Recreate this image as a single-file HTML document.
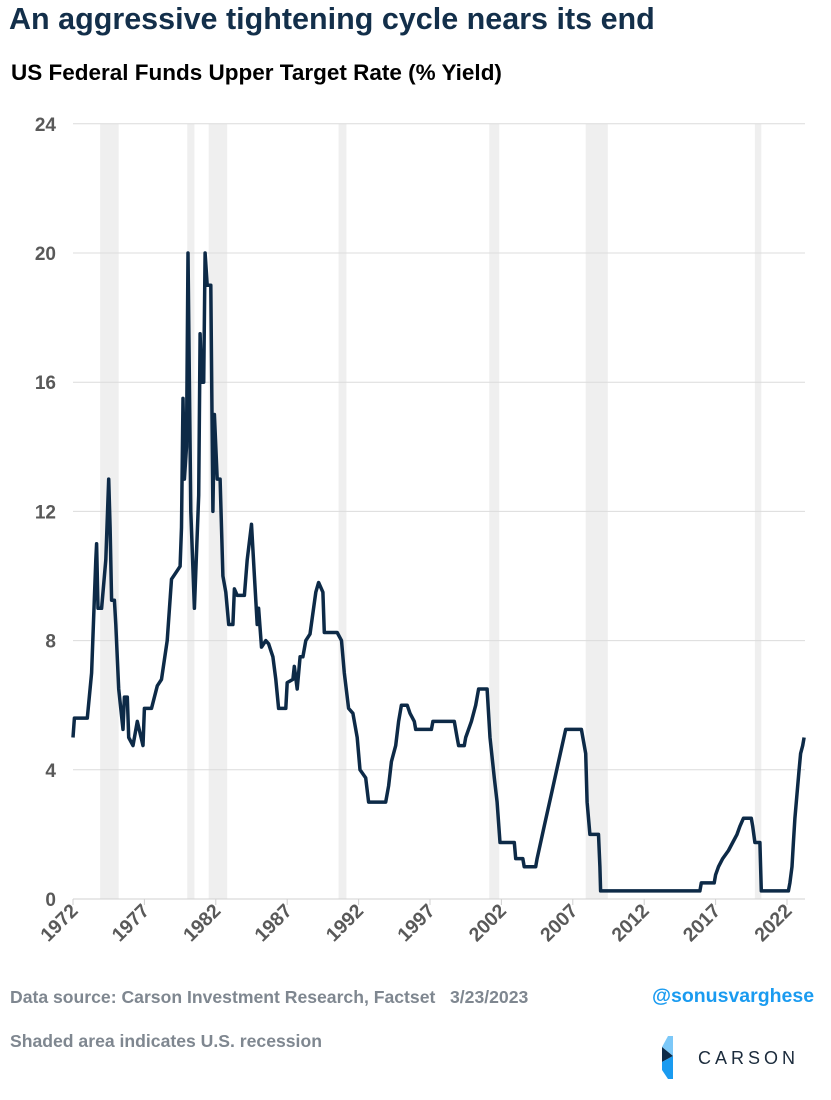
<!DOCTYPE html>
<html><head><meta charset="utf-8"><style>
body{margin:0;width:831px;height:1100px;background:#fff;font-family:"Liberation Sans",sans-serif;overflow:hidden;position:relative}
.t{position:absolute;white-space:nowrap}
</style></head><body>
<div class="t" style="left:9px;top:2px;font-size:30.5px;font-weight:bold;color:#132f4a">An aggressive tightening cycle nears its end</div>
<div class="t" style="left:11px;top:60px;font-size:22.5px;font-weight:bold;color:#000">US Federal Funds Upper Target Rate (% Yield)</div>
<svg id="s" width="831" height="1100" style="position:absolute;left:0;top:0" font-family="Liberation Sans, sans-serif"></svg>
<div class="t" style="left:10px;top:987px;font-size:17.6px;font-weight:bold;color:#7f8790">Data source: Carson Investment Research, Factset&nbsp;&nbsp; 3/23/2023</div>
<div class="t" style="left:652px;top:985px;font-size:19.5px;font-weight:bold;color:#1a9bf0">@sonusvarghese</div>
<div class="t" style="left:10px;top:1031px;font-size:17.6px;font-weight:bold;color:#7f8790">Shaded area indicates U.S. recession</div>
<svg width="30" height="50" style="position:absolute;left:660px;top:1036px">
<polygon points="8,0 13,0 13,20 2,11" fill="#7cc8f8"/><polygon points="2,11 13,20 2,26" fill="#0d2a47"/><polygon points="2,26 13,20 13,43 8,43 2,34" fill="#1a9bf0"/></svg>
<div class="t" style="left:698px;top:1048px;font-size:18px;letter-spacing:4px;color:#1b2b3c">CARSON</div>
<script>
var s=document.getElementById('s'),h='';
function X(y){return 73+(y-1972)*14.28}function Y(v){return 899-v*32.3}
[[1973.9,1975.2],[1980,1980.5],[1981.5,1982.8],[1990.6,1991.15],[2001.15,2001.85],[2007.9,2009.45],[2019.75,2020.2]].forEach(function(r){h+='<rect x="'+X(r[0])+'" y="124" width="'+(X(r[1])-X(r[0]))+'" height="775" fill="#efefef"/>'});
for(var v=4;v<=24;v+=4)h+='<line x1="73" x2="805" y1="'+Y(v)+'" y2="'+Y(v)+'" stroke="#dcdcdc"/>';
h+='<line x1="73" x2="805" y1="899" y2="899" stroke="#d0d0d0"/>';
for(v=0;v<=24;v+=4)h+='<text x="56" y="'+(Y(v)+7)+'" text-anchor="end" font-size="19" font-weight="bold" fill="#595959">'+v+'</text>';
for(var y=1972;y<=2022;y+=5){var x=X(y);h+='<line x1="'+x+'" x2="'+x+'" y1="899" y2="905" stroke="#d0d0d0"/><text transform="translate('+(x+6)+',912) rotate(-45)" text-anchor="end" font-size="19.5" font-weight="bold" fill="#595959">'+y+'</text>'}
var d=[1972.0,5.0,1972.1,5.6,1973.0,5.6,1973.3,7.0,1973.6,10.5,1973.65,11.0,1973.75,9.0,1974.0,9.0,1974.3,10.5,1974.5,13.0,1974.6,11.5,1974.7,9.25,1974.9,9.25,1975.0,8.5,1975.2,6.5,1975.5,5.25,1975.6,6.25,1975.8,6.25,1975.9,5.0,1976.2,4.75,1976.5,5.5,1976.9,4.75,1977.0,5.9,1977.5,5.9,1977.9,6.6,1978.2,6.8,1978.6,8.0,1978.9,9.9,1979.2,10.1,1979.5,10.3,1979.6,11.5,1979.7,15.5,1979.8,13.0,1979.95,14.0,1980.05,20.0,1980.25,12.0,1980.5,9.0,1980.8,12.5,1980.9,17.5,1981.0,16.0,1981.15,16.0,1981.25,20.0,1981.4,19.0,1981.65,19.0,1981.8,12.0,1981.9,15.0,1982.1,13.0,1982.3,13.0,1982.5,10.0,1982.7,9.5,1982.9,8.5,1983.2,8.5,1983.3,9.6,1983.5,9.4,1984.0,9.4,1984.2,10.5,1984.5,11.6,1984.7,10.0,1984.9,8.5,1985.0,9.0,1985.2,7.8,1985.5,8.0,1985.7,7.9,1986.0,7.5,1986.2,6.8,1986.4,5.9,1986.9,5.9,1987.0,6.7,1987.4,6.8,1987.5,7.2,1987.7,6.5,1987.9,7.5,1988.1,7.5,1988.3,8.0,1988.6,8.2,1989.0,9.5,1989.2,9.8,1989.5,9.5,1989.6,8.25,1990.5,8.25,1990.8,8.0,1991.0,7.0,1991.3,5.9,1991.6,5.75,1991.9,5.0,1992.1,4.0,1992.5,3.75,1992.7,3.0,1993.9,3.0,1994.1,3.5,1994.3,4.25,1994.6,4.75,1994.8,5.5,1995.0,6.0,1995.4,6.0,1995.6,5.75,1995.9,5.5,1996.0,5.25,1997.1,5.25,1997.2,5.5,1998.7,5.5,1998.9,5.0,1999.0,4.75,1999.4,4.75,1999.5,5.0,1999.9,5.5,2000.2,6.0,2000.4,6.5,2001.0,6.5,2001.2,5.0,2001.5,3.75,2001.7,3.0,2001.9,1.75,2002.9,1.75,2003.0,1.25,2003.5,1.25,2003.6,1.0,2004.4,1.0,2004.5,1.25,2005.0,2.25,2005.5,3.25,2006.0,4.25,2006.5,5.25,2007.6,5.25,2007.9,4.5,2008.0,3.0,2008.2,2.0,2008.8,2.0,2008.9,1.0,2008.95,0.25,2015.9,0.25,2016.0,0.5,2016.9,0.5,2017.0,0.75,2017.2,1.0,2017.5,1.25,2017.9,1.5,2018.2,1.75,2018.5,2.0,2018.7,2.25,2018.95,2.5,2019.5,2.5,2019.6,2.25,2019.75,1.75,2020.1,1.75,2020.2,0.25,2022.1,0.25,2022.2,0.5,2022.35,1.0,2022.45,1.75,2022.55,2.5,2022.7,3.25,2022.85,4.0,2022.95,4.5,2023.1,4.75,2023.2,5.0];
var p='';for(var i=0;i<d.length;i+=2)p+=(i?'L':'M')+X(d[i]).toFixed(1)+','+Y(d[i+1]).toFixed(1);
h+='<path d="'+p+'" fill="none" stroke="#0d2a47" stroke-width="3.5" stroke-linejoin="round"/>';
s.innerHTML=h;
</script>
</body></html>
